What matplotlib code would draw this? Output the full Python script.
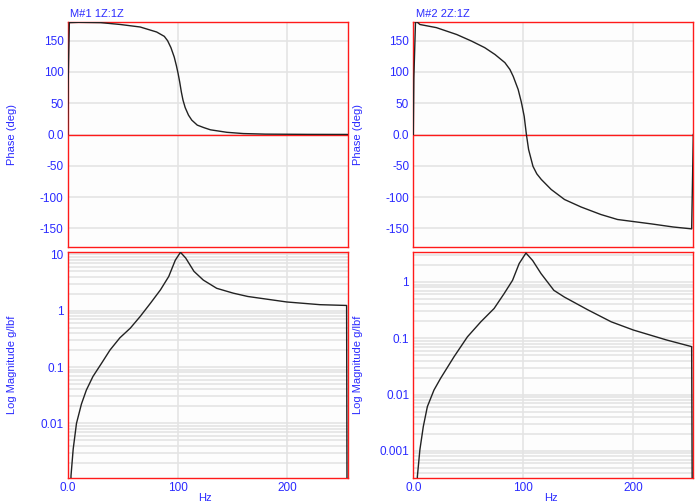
import matplotlib
matplotlib.use("Agg")
import matplotlib.pyplot as plt
from matplotlib.ticker import FixedLocator, FuncFormatter, LogLocator, NullFormatter

# ---------------- data ----------------
m1_phase_hz = [0, 0.5, 1.5, 10, 30, 48, 66, 81, 88, 91, 94, 97, 99, 100.5, 102, 103.5,
               105, 107, 110, 113, 118, 124, 130, 145, 160, 180, 220, 254, 255]
m1_phase_deg = [0, 90, 179, 179.5, 179, 176, 172, 164, 157, 150, 139, 124, 110, 98, 84, 68,
                55, 43, 31, 23, 15, 11, 7.5, 3.5, 1.5, 0.6, 0.2, 0.1, 0]

m1_mag_hz = [0, 3, 5, 8, 12.5, 17, 23, 31, 38.5, 47.5, 57, 66, 75.5, 84.5, 92, 98,
             102.7, 107.5, 115, 123.5, 135.7, 150.8, 164, 199.5, 229.8, 254, 255]
m1_mag = [1e-9, 0.00117, 0.0035, 0.0100, 0.022, 0.039, 0.068, 0.118, 0.20, 0.33, 0.49, 0.79,
          1.37, 2.35, 4.05, 7.9, 10.9, 8.6, 5.0, 3.5, 2.5, 2.05, 1.79, 1.43, 1.28, 1.24, 1e-9]

m2_phase_hz = [0, 0.5, 2, 3.5, 6, 12, 21, 39.5, 53, 65, 74.4, 83.4, 88, 91, 95.5, 98.5,
               101, 103, 105, 109, 112.5, 116.6, 125.6, 137.7, 152.8, 170.8, 186, 216.7,
               236.8, 253.5, 255]
m2_phase_deg = [0, 90, 180, 180, 176, 174, 171, 160, 149.5, 139, 128, 115, 104, 93, 72, 51,
                29, 0, -24, -51, -63, -72, -88, -104, -116, -128, -136, -143, -148, -151, 0]

m2_mag_hz = [0, 3.7, 6, 9.1, 12.8, 18.8, 24.9, 37.1, 49.3, 61.5, 73.6, 82.7, 90.4, 96.4,
             102.6, 108.7, 116.3, 128, 137.5, 158.9, 180.2, 200.4, 230.8, 253.5, 255]
m2_mag = [1e-9, 0.00035, 0.00105, 0.0027, 0.0061, 0.012, 0.0195, 0.047, 0.106, 0.196, 0.338,
          0.62, 1.07, 2.12, 3.26, 2.4, 1.41, 0.71, 0.54, 0.32, 0.196, 0.14, 0.093, 0.071, 1e-9]

titles = ["M#1 1Z:1Z", "M#2 2Z:1Z"]
phase_ticks = [-150, -100, -50, 0, 50, 100, 150]
hz_ticks = [0, 100, 200]
mag_limits = [(0.00107, 10.9), (0.00033, 3.36)]

# ---------------- style ----------------
BLUE = "#2a2aff"
RED = "#ff1a1a"
GRID = "#e4e4e4"
plt.rcParams["font.family"] = ["Liberation Sans", "DejaVu Sans"]

W, H = 699, 504
fig = plt.figure(figsize=(W / 100, H / 100), dpi=100)
fig.patch.set_facecolor("white")


def px_axes(x0, y0, x1, y1):
    return fig.add_axes([x0 / W, 1 - y1 / H, (x1 - x0) / W, (y1 - y0) / H])


def style(ax):
    for s in ax.spines.values():
        s.set_color(RED)
        s.set_linewidth(1.0)
    ax.tick_params(axis="both", which="both", length=0, colors=BLUE, labelsize=8.5, pad=3)
    ax.set_facecolor("#fdfdfd")


def hz_fmt(v, pos):
    return "0.0" if v == 0 else f"{v:g}"


def mag_fmt(v, pos):
    return f"{v:g}"


lefts = [67.7, 413.3]
phases = [(m1_phase_hz, m1_phase_deg), (m2_phase_hz, m2_phase_deg)]
mags = [(m1_mag_hz, m1_mag), (m2_mag_hz, m2_mag)]

for i in range(2):
    x0 = lefts[i]
    # phase
    axp = px_axes(x0, 22, x0 + 280, 247)
    style(axp)
    axp.set_xlim(0, 255)
    axp.set_ylim(-180, 180)
    axp.xaxis.set_major_locator(FixedLocator(hz_ticks))
    axp.set_xticklabels([])
    axp.yaxis.set_major_locator(FixedLocator(phase_ticks))
    axp.yaxis.set_major_formatter(FuncFormatter(hz_fmt))
    axp.grid(True, color=GRID, linewidth=1.2)
    axp.set_axisbelow(True)
    axp.axhline(0, color=RED, linewidth=1.0, zorder=2)
    axp.plot(phases[i][0], phases[i][1], color="#222222", linewidth=1.0, zorder=3)
    axp.set_ylabel("Phase (deg)", color=BLUE, fontsize=8)
    axp.yaxis.set_label_coords(-0.18, 0.5)
    axp.text(0.01, 1.012, titles[i], transform=axp.transAxes, color=BLUE, fontsize=8,
             ha="left", va="bottom")

    # magnitude
    axm = px_axes(x0, 252.3, x0 + 280, 478)
    style(axm)
    axm.set_yscale("log")
    axm.set_xlim(0, 255)
    axm.set_ylim(*mag_limits[i])
    axm.xaxis.set_major_locator(FixedLocator(hz_ticks))
    axm.xaxis.set_major_formatter(FuncFormatter(hz_fmt))
    axm.yaxis.set_major_locator(LogLocator(base=10, numticks=10))
    axm.yaxis.set_major_formatter(FuncFormatter(mag_fmt))
    axm.yaxis.set_minor_locator(LogLocator(base=10, subs=range(2, 10), numticks=20))
    axm.yaxis.set_minor_formatter(NullFormatter())
    axm.grid(True, which="both", color=GRID, linewidth=1.2)
    axm.set_axisbelow(True)
    axm.plot(mags[i][0], mags[i][1], color="#222222", linewidth=1.0, zorder=3)
    axm.set_ylabel("Log Magnitude g/lbf", color=BLUE, fontsize=8)
    axm.yaxis.set_label_coords(-0.18, 0.5)
    axm.set_xlabel("Hz", color=BLUE, fontsize=8)
    axm.xaxis.set_label_coords(0.49, -0.065)

fig.savefig("out.png", dpi=100)
